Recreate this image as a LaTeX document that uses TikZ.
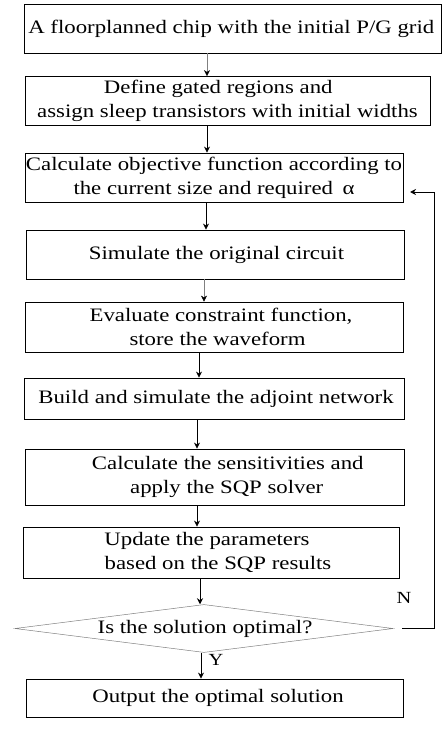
\documentclass[tikz,border=0pt]{standalone}
\usepackage{fontspec}
\setmainfont{Liberation Serif}[FakeStretch=1.2]
\usetikzlibrary{arrows.meta,shapes.geometric}
\newcommand\tline[2]{\hbox to 0pt{\hss\kern#1pt #2\hss}}
\tikzset{
  box/.style={draw, line width=0.8pt, inner sep=0pt, align=center,
    font=\fontsize{19}{24}\selectfont},
  arr/.style={line width=0.8pt, -{Stealth[length=6pt,width=6pt,black]}},
  thinarr/.style={line width=0.4pt, draw=gray, -{Stealth[length=6pt,width=6pt,black]}},
  lbl/.style={font=\fontsize{17}{20}\selectfont, inner sep=0pt},
  dec/.style={draw=gray, line width=0.5pt, shape=diamond, aspect=7.7, inner sep=0pt,
    minimum width=378pt, minimum height=48pt, align=center,
    font=\fontsize{19}{24}\selectfont},
}
\begin{document}
\begin{tikzpicture}[x=1pt,y=-1pt]
\useasboundingbox (0,0) rectangle (442,730);
\node[box, minimum width=417pt, minimum height=49pt] (b1) at (232.75,28.5)
  {\tline{-3}{A floorplanned chip with the initial P/G grid}};
\node[box, minimum width=405pt, minimum height=49pt] (b2) at (227.5,101)
  {\tline{-18.5}{Define gated regions and}\\\tline{0}{assign sleep transistors with initial widths}};
\node[box, minimum width=378pt, minimum height=49pt] (b3) at (214,177.5)
  {\tline{0}{Calculate objective function according to}\\\tline{0}{the current size and required\enspace α}};
\node[box, minimum width=378pt, minimum height=49pt] (b4) at (215,254.5)
  {\tline{3}{Simulate the original circuit}};
\node[box, minimum width=378pt, minimum height=50pt] (b5) at (214,327)
  {\tline{14}{Evaluate constraint function,}\\\tline{7}{store the waveform}};
\node[box, minimum width=380pt, minimum height=41pt] (b6) at (214,398.5)
  {\tline{4}{Build and simulate the adjoint network}};
\node[box, minimum width=379pt, minimum height=56pt] (b7) at (214.5,477)
  {\tline{26.5}{Calculate the sensitivities and}\\\tline{24.5}{apply the SQP solver}};
\node[box, minimum width=376pt, minimum height=51pt] (b8) at (211,552.5)
  {\tline{-8}{Update the parameters}\\\tline{14}{based on the SQP results}};
\node[dec] (d) at (204,628.5) {\tline{2}{Is the solution optimal?}};
\node[box, minimum width=377pt, minimum height=38pt] (b9) at (214.5,698)
  {\tline{7}{Output the optimal solution}};
\node[lbl] (n) at (404,598) {N};
\node[lbl] (y) at (216,660) {Y};
\coordinate (fbtip) at (410,192);

\draw[thinarr] (b1.south -| 207,0) -- (b2.north -| 207,0);
\draw[arr] (b2.south -| 207,0) -- (b3.north -| 207,0);
\draw[arr] (b3.south -| 206,0) -- (b4.north -| 206,0);
\draw[thinarr] (b4.south -| 204,0) -- (b5.north -| 204,0);
\draw[arr] (b5.south -| 199,0) -- (b6.north -| 199,0);
\draw[arr] (b6.south -| 197,0) -- (b7.north -| 197,0);
\draw[arr] (b7.south -| 197,0) -- (b8.north -| 197,0);
\draw[arr] (b8.south -| 200,0) -- (d.north -| 200,0);
\draw[arr] (d.south -| 201,0) -- (b9.north -| 201,0);
\draw[arr] ([xshift=9pt]d.east) -- ++(32,0) |- (fbtip);
\end{tikzpicture}
\end{document}
